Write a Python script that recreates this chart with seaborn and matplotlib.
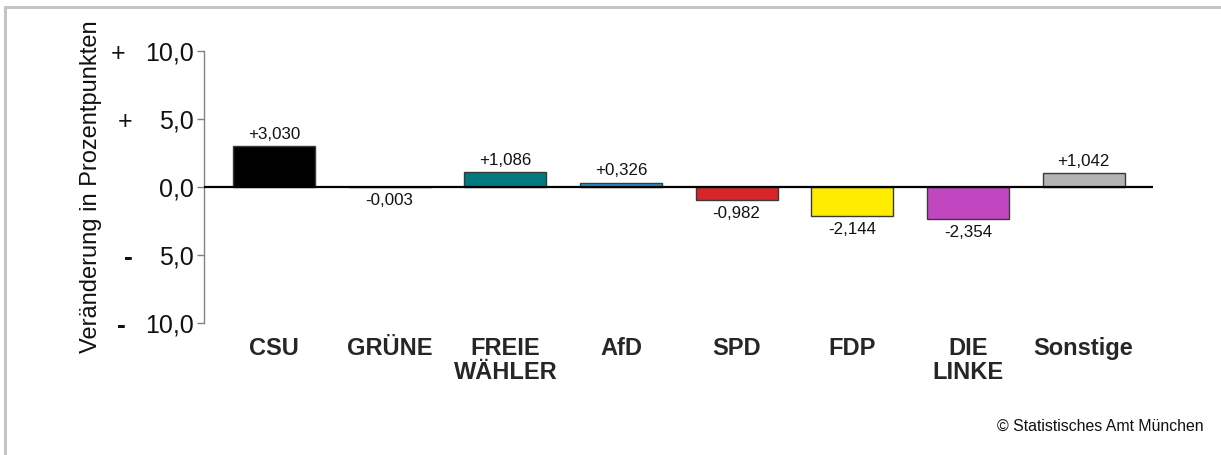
import matplotlib
matplotlib.use("Agg")
import matplotlib.pyplot as plt
import matplotlib.transforms as mtransforms
from matplotlib.lines import Line2D
import pandas as pd
import seaborn as sns

# Veränderung der Stimmenanteile in Prozentpunkten
parteien = ["CSU", "GRÜNE", "FREIE\nWÄHLER", "AfD", "SPD", "FDP", "DIE\nLINKE", "Sonstige"]
veraenderung = [3.030, -0.003, 1.086, 0.326, -0.982, -2.144, -2.354, 1.042]
farben = ["#000000", "#46962B", "#007A7E", "#1F95D9", "#D7262B", "#FFED00", "#C147C1", "#B3B3B3"]

y_ticks = [-10, -5, 0, 5, 10]
y_ticklabels = ["10,0", "5,0", "0,0", "5,0", "10,0"]
y_signs = ["-", "-", "", "+", "+"]

sns.set_style("white")
plt.rcParams["font.family"] = ["Liberation Sans", "DejaVu Sans"]

df = pd.DataFrame({"partei": parteien, "wert": veraenderung})

fig = plt.figure(figsize=(12.21, 4.55), dpi=100)
ax = fig.add_axes([0.1671, 0.2901, 0.9443 - 0.1671, 0.5978])

sns.barplot(data=df, x="partei", y="wert", hue="partei", palette=farben,
            order=parteien, hue_order=parteien, legend=False, width=0.71,
            edgecolor="#3a3a3a", linewidth=1.0, saturation=1, ax=ax)

ax.axhline(0, color="black", lw=1.6, zorder=5)

ax.set_ylim(-10, 10)
ax.set_xlim(-0.605, 7.6)
ax.set_yticks(y_ticks)
ax.set_yticklabels(y_ticklabels, fontsize=18, color="#111111")
ax.tick_params(axis="y", length=5, width=1, color="#808080", pad=2.4, left=True)
ax.tick_params(axis="x", length=0, pad=10)
for lab in ax.get_xticklabels():
    lab.set_fontsize(17)
    lab.set_fontweight("bold")
    lab.set_linespacing(1.05)
    lab.set_verticalalignment("top")

# Vorzeichen links neben den Zahlen
trans = mtransforms.blended_transform_factory(ax.transAxes, ax.transData)
sign_x = {(-10): -0.0875, (-5): -0.0801, 5: -0.0832, 10: -0.0906}
for t, s in zip(y_ticks, y_signs):
    if s:
        ax.text(sign_x[t], t, s, transform=trans, ha="center", va="center_baseline",
                fontsize=19 if s == "-" else 18,
                fontweight="bold" if s == "-" else "normal",
                color="#111111")

for side in ["top", "right", "bottom"]:
    ax.spines[side].set_visible(False)
ax.spines["left"].set_color("#808080")
ax.spines["left"].set_linewidth(1)

ax.set_xlabel("")
ax.set_ylabel("Veränderung in Prozentpunkten", fontsize=17, color="#111111")
ax.yaxis.set_label_coords(-0.1074, 0.5)

# Wertebeschriftung an den Balken
bars = [p for p in ax.patches if p.get_width() > 0]
for bar, v in zip(bars, veraenderung):
    x = bar.get_x() + bar.get_width() / 2
    y = bar.get_y() + bar.get_height()
    ax.annotate(f"{v:+.3f}".replace(".", ","), (x, y),
                xytext=(0, 3 if v >= 0 else -4), textcoords="offset points",
                ha="center", va="bottom" if v >= 0 else "top",
                fontsize=12.2, color="#111111")

# Rahmen
fig.add_artist(Line2D([0.0045, 0.0045], [0, 0.9846], color="#c4c4c4", lw=2.2,
                      transform=fig.transFigure))
fig.add_artist(Line2D([0.0045, 1], [0.9846, 0.9846], color="#c4c4c4", lw=2.2,
                      transform=fig.transFigure))

fig.text(0.986, 0.0637, "© Statistisches Amt München", ha="right", va="center",
         fontsize=11.4, color="#111111")

fig.savefig("out.png", dpi=100)
